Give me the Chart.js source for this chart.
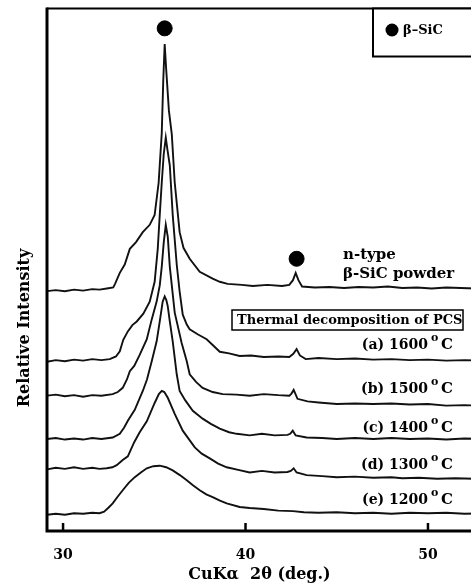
<!DOCTYPE html>
<html lang="en">
  <head>
    <meta charset="UTF-8" />
    <title>XRD beta-SiC</title>
    <script src="https://cdn.jsdelivr.net/npm/chart.js"></script>
    <style>
      html, body { margin: 0; padding: 0; background: #fff; overflow: hidden; }
      #wrap { width: 500px; height: 586px; }
    </style>
  </head>
  <body>
    <div id="wrap"><canvas id="xrdChart" width="500" height="586"></canvas></div>
    <script>
      // [2theta, relative intensity], curves already stacked
      const powder = [[29.12,45.9],[29.6,46.1],[30.1,45.9],[30.6,46.2],[31.1,46.0],[31.6,46.3],[32.0,46.2],[32.4,46.4],[32.75,46.6],[32.85,47.3],[33.11,49.4],[33.38,51.0],[33.66,54.0],[34.0,55.3],[34.37,57.2],[34.75,58.6],[35.02,60.5],[35.24,66.7],[35.41,76.2],[35.49,86.0],[35.57,93.2],[35.65,88.5],[35.80,80.5],[35.96,75.9],[36.12,66.7],[36.39,57.2],[36.6,54.2],[36.94,52.1],[37.49,49.6],[38.2,48.3],[38.59,47.7],[39.02,47.3],[39.8,47.1],[40.4,46.9],[41.2,47.1],[42.0,46.9],[42.4,47.1],[42.6,48.0],[42.75,49.4],[42.9,48.0],[43.1,46.8],[43.8,46.6],[44.6,46.7],[45.4,46.5],[46.2,46.7],[47.0,46.6],[47.8,46.8],[48.6,46.5],[49.4,46.6],[50.2,46.4],[51.0,46.6],[51.8,46.5],[52.6,46.4],[53.4,46.5]];
      const t1600 = [[29.12,32.4],[29.6,32.7],[30.1,32.5],[30.6,32.8],[31.1,32.6],[31.6,32.9],[32.1,32.7],[32.56,32.9],[32.9,33.4],[33.11,34.4],[33.3,36.6],[33.55,38.2],[33.8,39.4],[34.04,40.1],[34.4,41.6],[34.75,43.9],[35.02,47.7],[35.19,54.0],[35.30,60.5],[35.41,66.7],[35.52,72.2],[35.63,75.3],[35.72,73.0],[35.85,70.0],[36.01,60.5],[36.23,51.0],[36.39,45.8],[36.56,41.4],[36.78,39.5],[36.94,38.6],[37.4,37.6],[37.87,36.7],[38.2,35.6],[38.59,34.3],[39.1,34.0],[39.68,33.5],[40.3,33.6],[41.0,33.3],[41.8,33.4],[42.4,33.3],[42.62,33.9],[42.8,34.8],[42.98,33.6],[43.3,32.9],[44.0,33.1],[45.0,32.9],[46.0,33.0],[47.0,32.8],[48.0,32.9],[49.0,32.7],[50.0,32.8],[51.0,32.6],[52.0,32.7],[53.4,32.6]];
      const t1500 = [[29.12,25.9],[29.6,26.1],[30.1,25.8],[30.6,26.0],[31.1,25.7],[31.6,26.0],[32.1,25.9],[32.72,26.2],[33.0,26.6],[33.27,27.4],[33.5,29.0],[33.66,30.6],[33.9,31.6],[34.2,33.7],[34.59,36.7],[34.86,40.5],[35.13,43.9],[35.30,47.0],[35.41,50.6],[35.52,55.3],[35.63,58.6],[35.74,56.3],[35.85,50.6],[36.12,41.8],[36.50,36.0],[36.78,32.5],[36.94,30.0],[37.3,28.5],[37.65,27.4],[38.2,26.6],[38.75,26.2],[39.5,26.1],[40.23,25.9],[41.0,26.2],[41.8,26.0],[42.4,25.9],[42.52,26.3],[42.64,27.0],[42.85,25.3],[43.4,24.8],[44.0,24.6],[45.0,24.3],[46.0,24.4],[47.0,24.3],[48.0,24.4],[49.0,24.2],[50.0,24.3],[51.0,24.0],[52.0,24.1],[53.4,23.9]];
      const t1400 = [[29.12,17.6],[29.6,17.8],[30.1,17.5],[30.6,17.7],[31.1,17.5],[31.6,17.8],[32.1,17.6],[32.72,17.9],[33.11,18.6],[33.35,19.8],[33.55,21.1],[33.93,23.2],[34.37,26.8],[34.6,29.0],[34.86,32.5],[35.13,36.3],[35.30,40.1],[35.46,43.9],[35.57,44.9],[35.66,44.2],[35.74,43.0],[35.85,40.1],[36.01,36.3],[36.23,30.0],[36.39,26.8],[36.7,25.0],[37.11,23.0],[37.65,21.5],[38.1,20.5],[38.59,19.6],[39.1,18.9],[39.52,18.6],[40.23,18.3],[40.9,18.6],[41.6,18.3],[42.3,18.4],[42.45,18.6],[42.59,19.2],[42.75,18.3],[43.35,17.9],[44.2,17.8],[45.0,17.6],[46.0,17.8],[47.0,17.6],[48.0,17.8],[49.0,17.6],[50.0,17.7],[51.0,17.5],[52.0,17.7],[53.4,17.6]];
      const t1300 = [[29.12,11.8],[29.6,12.1],[30.1,11.9],[30.6,12.2],[31.1,11.9],[31.6,12.1],[32.0,11.9],[32.39,12.0],[32.7,12.2],[32.94,12.6],[33.27,13.6],[33.55,14.3],[33.9,17.0],[34.2,18.9],[34.59,21.0],[35.02,24.5],[35.25,26.2],[35.41,26.8],[35.55,26.6],[35.74,25.5],[36.12,22.4],[36.56,19.2],[37.22,16.0],[37.6,14.8],[38.04,13.9],[38.5,12.9],[38.97,12.2],[39.6,11.7],[40.23,11.2],[40.9,11.5],[41.6,11.2],[42.3,11.3],[42.48,11.5],[42.64,12.0],[42.8,11.2],[43.35,10.7],[44.2,10.5],[45.0,10.3],[46.0,10.4],[47.0,10.2],[48.0,10.3],[48.6,10.1],[49.5,10.2],[50.5,10.0],[51.5,10.1],[52.5,10.0],[53.4,10.1]];
      const t1200 = [[29.12,3.1],[29.6,3.3],[30.1,3.1],[30.6,3.4],[31.1,3.3],[31.6,3.5],[32.0,3.4],[32.25,3.7],[32.5,4.5],[32.72,5.3],[33.0,6.6],[33.27,7.8],[33.6,9.2],[33.93,10.3],[34.3,11.3],[34.59,12.0],[34.95,12.4],[35.30,12.5],[35.65,12.2],[36.01,11.6],[36.4,10.7],[36.78,9.7],[37.1,8.8],[37.49,7.8],[37.85,7.0],[38.2,6.5],[38.6,5.8],[38.97,5.3],[39.68,4.6],[40.23,4.4],[41.0,4.2],[41.8,3.9],[42.6,3.8],[43.2,3.6],[44.0,3.5],[45.0,3.6],[46.0,3.4],[47.0,3.5],[48.0,3.3],[49.0,3.5],[50.0,3.4],[51.0,3.5],[52.0,3.3],[53.4,3.4]];

      const seriesNames = ["n-type β-SiC powder", "(a) 1600 °C", "(b) 1500 °C", "(c) 1400 °C", "(d) 1300 °C", "(e) 1200 °C"];
      const tempLabels = ["(a) 1600", "(b) 1500", "(c) 1400", "(d) 1300", "(e) 1200"];
      const xTicks = [30, 40, 50];
      // beta-SiC reflections marked with dots
      const markerX = [35.57, 42.8];
      const markerY = [96.2, 52.1];

      const SERIF = "'DejaVu Serif', serif";

      const decorations = {
        id: "decorations",
        afterDatasetsDraw(chart) {
          const { ctx, chartArea: a, scales: { x } } = chart;
          ctx.save();
          ctx.strokeStyle = "#000";
          ctx.fillStyle = "#000";

          // frame
          ctx.lineWidth = 2;
          ctx.beginPath();
          ctx.moveTo(a.left, a.top);
          ctx.lineTo(a.right, a.top);
          ctx.lineTo(a.right, a.bottom);
          ctx.stroke();
          ctx.lineWidth = 3;
          ctx.beginPath();
          ctx.moveTo(a.left, a.top - 1);
          ctx.lineTo(a.left, a.bottom);
          ctx.lineTo(a.right, a.bottom);
          ctx.stroke();

          // inward tick marks
          ctx.lineWidth = 2.5;
          xTicks.forEach((v) => {
            const px = x.getPixelForValue(v);
            ctx.beginPath();
            ctx.moveTo(px, a.bottom);
            ctx.lineTo(px, a.bottom - 8);
            ctx.stroke();
          });

          // legend box
          ctx.lineWidth = 2;
          ctx.fillStyle = "#fff";
          ctx.fillRect(373, a.top, 160, 48);
          ctx.strokeRect(373, a.top, 160, 48);
          ctx.fillStyle = "#000";
          ctx.beginPath();
          ctx.arc(392, 30, 6.5, 0, Math.PI * 2);
          ctx.fill();
          ctx.textBaseline = "middle";
          ctx.textAlign = "left";
          ctx.font = "bold 13px " + SERIF;
          ctx.fillText("β–SiC", 403, 31);

          // powder label
          ctx.font = "bold 15px " + SERIF;
          ctx.fillText("n-type", 343, 255);
          ctx.fillText("β-SiC powder", 343, 274);

          // PCS box
          ctx.lineWidth = 1.5;
          ctx.fillStyle = "#fff";
          ctx.fillRect(232, 310, 231, 20);
          ctx.strokeRect(232, 310, 231, 20);
          ctx.fillStyle = "#000";
          ctx.font = "bold 13px " + SERIF;
          ctx.fillText("Thermal decomposition of PCS", 237, 320.5);

          // temperature labels
          const rowY = [345, 389, 428, 465, 500];
          tempLabels.forEach((t, i) => {
            ctx.font = "bold 14px " + SERIF;
            ctx.textAlign = "right";
            ctx.fillText(t, 428, rowY[i]);
            ctx.textAlign = "left";
            ctx.font = "bold 15px " + SERIF;
            ctx.fillText("C", 441, rowY[i]);
            ctx.font = "bold 11px " + SERIF;
            ctx.fillText("o", 431, rowY[i] - 7);
          });

          // axis titles
          ctx.font = "bold 16px " + SERIF;
          ctx.textAlign = "center";
          ctx.fillText("CuKα  2θ (deg.)", 259.5, 575);
          ctx.save();
          ctx.translate(25, 328);
          ctx.rotate(-Math.PI / 2);
          ctx.fillText("Relative Intensity", 0, 0);
          ctx.restore();

          ctx.restore();
        },
      };

      const curves = [powder, t1600, t1500, t1400, t1300, t1200];
      const datasets = curves.map((d, i) => ({
        type: "line",
        label: seriesNames[i],
        data: d,
        borderColor: "#111",
        borderWidth: 1.9,
        pointRadius: 0,
        tension: 0,
        fill: false,
      }));
      datasets.push({
        type: "scatter",
        label: "β-SiC",
        data: markerX.map((v, i) => ({ x: v, y: markerY[i] })),
        backgroundColor: "#000",
        borderColor: "#000",
        pointRadius: 7.5,
      });

      new Chart(document.getElementById("xrdChart"), {
        type: "line",
        data: { datasets },
        options: {
          responsive: false,
          animation: false,
          layout: { padding: { left: 47, top: 5, right: 10, bottom: 0 } },
          plugins: { legend: { display: false }, tooltip: { enabled: false } },
          scales: {
            x: {
              type: "linear",
              min: 29.12,
              max: 53.4,
              grid: { display: false },
              border: { display: false },
              afterBuildTicks: (axis) => {
                axis.ticks = xTicks.map((v) => ({ value: v }));
              },
              afterFit: (axis) => {
                axis.height = 55;
              },
              ticks: {
                color: "#000",
                padding: 8,
                font: { family: SERIF, size: 14, weight: "bold" },
              },
            },
            y: {
              type: "linear",
              min: 0,
              max: 100,
              display: false,
            },
          },
        },
        plugins: [decorations],
      });
    </script>
  </body>
</html>
